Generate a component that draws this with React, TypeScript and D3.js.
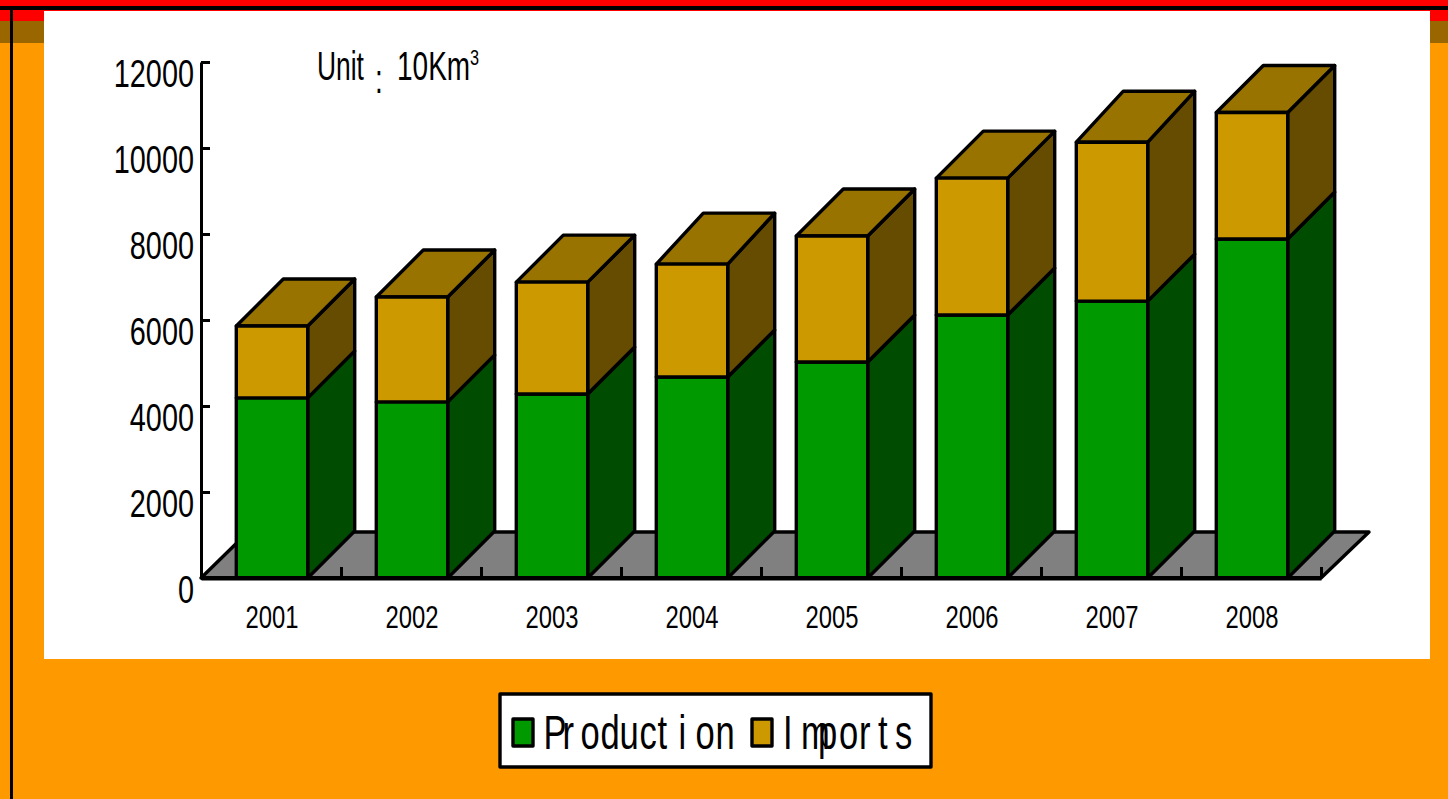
import React, { useEffect, useRef } from 'react';
import * as d3 from 'd3';

const years = ['2001', '2002', '2003', '2004', '2005', '2006', '2007', '2008'];
const production = [4190, 4095, 4280, 4675, 5025, 6115, 6440, 7885];
const imports = [1670, 2440, 2600, 2625, 2930, 3185, 3695, 2940];
const yTicks = [0, 2000, 4000, 6000, 8000, 10000, 12000];
const seriesNames = ['Production', 'Imports'];

const FRONT = ['#009900', '#CC9900'];
const SIDE = ['#004C00', '#664C00'];
const TOP = '#997300';
const FONT = '"Liberation Sans", Arial, sans-serif';
const DEPTH = 47;
// the source image has two lids that rise a little higher than the rest
const LID_EXTRA = { 2004: 4, 2007: 4 };

// uneven letter gaps of the legend in the source, in px per letter
const LEGEND_GAPS = [
  [0, -4, 6.5, 0.8, -0.2, 0.8, 0.7, 11.4, 9.3, 0.8],
  [0, 8.4, -11.8, 1.8, 0.8, 7.5, 7.4],
];
const LEGEND_SCALE = 0.72;

const App = () => {
  const ref = useRef(null);

  useEffect(() => {
    const svg = d3.select(ref.current);
    svg.selectAll('*').remove();

    // page background bands
    svg.append('rect').attr('width', 1448).attr('height', 799).attr('fill', '#FF9900');
    svg.append('rect').attr('width', 1448).attr('height', 21).attr('fill', '#FF0000');
    svg.append('rect').attr('y', 21).attr('width', 1448).attr('height', 22).attr('fill', '#996600');
    svg.append('rect').attr('y', 6).attr('width', 1448).attr('height', 4).attr('fill', '#000');
    svg.append('rect').attr('x', 10).attr('y', 6).attr('width', 3).attr('height', 793).attr('fill', '#000');
    svg.append('rect').attr('x', 44).attr('y', 11).attr('width', 1386).attr('height', 648).attr('fill', '#fff');

    const x = d3.scaleBand().domain(years).range([202, 1322]).paddingInner(0.49).paddingOuter(0.245);
    const xEdge = d3.scaleLinear().domain([0, years.length]).range([201, 1321]);
    const y = d3.scaleLinear().domain([0, 12000]).range([578, 62]);

    const rows = years.map((year, i) => ({ year, Production: production[i], Imports: imports[i] }));
    const stacked = d3.stack().keys(seriesNames)(rows);

    const outline = (g) =>
      g.attr('stroke', '#000').attr('stroke-width', 3.4).attr('stroke-linejoin', 'round');

    // squeezed text, the original is a stretched bitmap so glyphs are narrow
    const label = (txt, px, py, size, sx, anchor = 'start') =>
      svg.append('text')
        .attr('transform', `translate(${px},${py}) scale(${sx},1)`)
        .attr('text-anchor', anchor)
        .style('font-family', FONT)
        .style('font-size', `${size}px`)
        .text(txt);

    // floor
    const poly = d3.line();
    outline(svg.append('path'))
      .attr('d', poly([
        [xEdge(0), y(0)],
        [xEdge(0) + DEPTH, y(0) - 46],
        [xEdge(years.length) + DEPTH + 1, y(0) - 46],
        [xEdge(years.length), y(0)],
      ]) + 'Z')
      .attr('fill', '#808080');

    // floor ticks and the axis line
    const xTickAxis = d3.axisBottom(xEdge)
      .tickValues(d3.range(years.length + 1))
      .tickSizeInner(-11)
      .tickSizeOuter(0)
      .tickFormat(() => '');
    const xg = svg.append('g').attr('transform', `translate(0,${y(0)})`).call(xTickAxis);
    xg.selectAll('line').attr('stroke', '#000').attr('stroke-width', 3);
    xg.select('.domain').attr('stroke', '#000').attr('stroke-width', 4);

    // y axis
    const yAxis = d3.axisLeft(y).tickValues(yTicks).tickSizeInner(-9).tickSizeOuter(0).tickFormat(() => '');
    const yg = svg.append('g').attr('transform', 'translate(201,0)').call(yAxis);
    yg.selectAll('line').attr('stroke', '#000').attr('stroke-width', 3);
    yg.select('.domain').attr('stroke', '#000').attr('stroke-width', 3);
    yTicks.forEach((t) => label(String(t), 194, y(t) + 25, 39, 0.74, 'end'));

    // bars, drawn left to right so later ones sit on top
    years.forEach((year, i) => {
      const g = svg.append('g');
      const bx = x(year);
      const bw = x.bandwidth();
      const lid = LID_EXTRA[year] || 0;
      stacked.forEach((layer, s) => {
        const [y0, y1] = layer[i];
        const rise = s === stacked.length - 1 ? lid : 0;
        outline(g.append('path'))
          .attr('d', poly([
            [bx + bw, y(y0)],
            [bx + bw + DEPTH, y(y0) - DEPTH],
            [bx + bw + DEPTH, y(y1) - DEPTH - rise],
            [bx + bw, y(y1)],
          ]) + 'Z')
          .attr('fill', SIDE[s]);
      });
      const total = stacked[stacked.length - 1][i][1];
      outline(g.append('path'))
        .attr('d', poly([
          [bx, y(total)],
          [bx + DEPTH, y(total) - DEPTH - lid],
          [bx + bw + DEPTH, y(total) - DEPTH - lid],
          [bx + bw, y(total)],
        ]) + 'Z')
        .attr('fill', TOP);
      stacked.forEach((layer, s) => {
        const [y0, y1] = layer[i];
        outline(g.append('rect'))
          .attr('x', bx)
          .attr('y', y(y1))
          .attr('width', bw)
          .attr('height', y(y0) - y(y1))
          .attr('fill', FRONT[s]);
      });
    });

    // redraw baseline on top of the bars
    svg.append('line')
      .attr('x1', xEdge(0)).attr('x2', xEdge(years.length))
      .attr('y1', y(0)).attr('y2', y(0))
      .attr('stroke', '#000').attr('stroke-width', 4);

    // year labels
    years.forEach((d) => label(d, x(d) + x.bandwidth() / 2, 628, 32, 0.745, 'middle'));

    // unit note
    label('Unit', 317, 80, 40, 0.66);
    label(':', 375, 93, 40, 0.7);
    label('10Km', 397, 80, 40, 0.7);
    label('3', 470, 65, 22, 0.74);

    // legend
    outline(svg.append('rect'))
      .attr('x', 500).attr('y', 694).attr('width', 431).attr('height', 73)
      .attr('fill', '#fff');
    const legendX = d3.scaleOrdinal().domain(seriesNames).range([513, 752]);
    const legendText = d3.scaleOrdinal().domain(seriesNames).range([543.5, 783]);
    seriesNames.forEach((name, s) => {
      outline(svg.append('rect'))
        .attr('x', legendX(name)).attr('y', 719).attr('width', 20).attr('height', 27)
        .attr('fill', FRONT[s]);
      label(name, legendText(name), 748.5, 48, LEGEND_SCALE)
        .attr('dx', LEGEND_GAPS[s].map((g) => (g / LEGEND_SCALE).toFixed(1)).join(' '));
    });
  }, []);

  return (
    <svg
      ref={ref}
      width={1448}
      height={799}
      style={{ position: 'absolute', left: 0, top: 0, display: 'block' }}
    />
  );
};

export default App;
